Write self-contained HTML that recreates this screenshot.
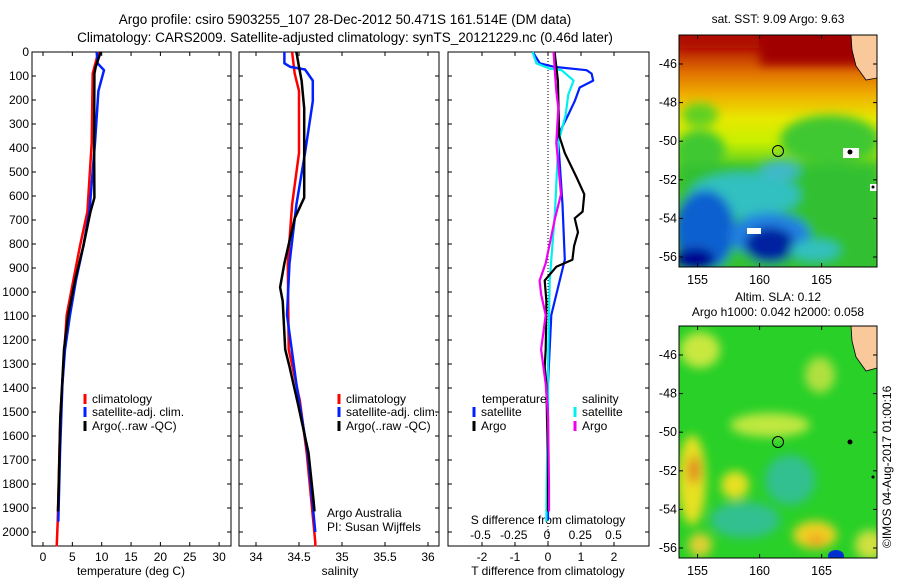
<!DOCTYPE html>
<html><head><meta charset="utf-8"><style>
body{margin:0;background:#fff;}
svg{display:block;font-family:"Liberation Sans",sans-serif;}
</style></head><body>
<svg id="fig" width="900" height="580" viewBox="0 0 900 580">
<defs>
<filter id="blur4" x="-50%" y="-50%" width="200%" height="200%"><feGaussianBlur stdDeviation="5"/></filter>
<filter id="blur2" x="-50%" y="-50%" width="200%" height="200%"><feGaussianBlur stdDeviation="3"/></filter>
<clipPath id="clipm1"><rect x="679" y="35" width="198" height="232"/></clipPath>
<clipPath id="clipm2"><rect x="679" y="326" width="198" height="232"/></clipPath>
<linearGradient id="sstg" x1="0" y1="0" x2="0" y2="1">
<stop offset="0" stop-color="#a40000"/><stop offset="0.06" stop-color="#b82000"/>
<stop offset="0.16" stop-color="#e07000"/><stop offset="0.26" stop-color="#f0b000"/>
<stop offset="0.36" stop-color="#e8e800"/><stop offset="0.46" stop-color="#c8f000"/>
<stop offset="0.56" stop-color="#60d020"/><stop offset="1" stop-color="#30c030"/>
</linearGradient>
</defs>
<text x="345" y="24" font-size="13.5" text-anchor="middle">Argo profile: csiro 5903255_107 28-Dec-2012 50.471S 161.514E (DM data)</text>
<text x="345" y="42" font-size="13.5" text-anchor="middle">Climatology: CARS2009. Satellite-adjusted climatology: synTS_20121229.nc (0.46d later)</text>
<g id="p1"></g>
<g id="p2"></g>
<g id="p3"></g>

<!-- SST map -->
<g>
<text x="778" y="23" font-size="12" text-anchor="middle">sat. SST: 9.09 Argo: 9.63</text>
<g clip-path="url(#clipm1)">
<rect x="679" y="35" width="198" height="232" fill="url(#sstg)"/>
<g filter="url(#blur4)">
<rect x="760" y="30" width="120" height="35" fill="#a00000"/>
<rect x="679" y="30" width="80" height="18" fill="#b01000"/>
<ellipse cx="700" cy="150" rx="25" ry="20" fill="#40c830"/>
<ellipse cx="700" cy="115" rx="18" ry="12" fill="#60d020"/>
<rect x="679" y="165" width="198" height="110" fill="#30c030"/>
<ellipse cx="830" cy="140" rx="50" ry="25" fill="#40c830"/>
<ellipse cx="745" cy="195" rx="55" ry="22" fill="#30c0c0"/>
<ellipse cx="705" cy="230" rx="30" ry="40" fill="#1060d0"/>
<ellipse cx="770" cy="235" rx="40" ry="22" fill="#2080e0"/>
<ellipse cx="770" cy="245" rx="25" ry="18" fill="#0020a0"/>
<ellipse cx="695" cy="260" rx="20" ry="12" fill="#000090"/>
<ellipse cx="815" cy="250" rx="25" ry="10" fill="#30c0c0"/>
<ellipse cx="780" cy="170" rx="20" ry="10" fill="#40b8c8"/>
</g>
<path d="M851 35 L877 35 L877 78 L866 80 L856 66 L852 50 Z" fill="#f9c89b" stroke="#000" stroke-width="0.8"/>
<rect x="843" y="148" width="16" height="10" fill="#fff"/><circle cx="850" cy="152" r="2.5" fill="#000"/>
<rect x="870" y="184" width="7" height="7" fill="#fff"/><circle cx="873" cy="187" r="1.5" fill="#000"/>
<rect x="747" y="228" width="14" height="6" fill="#fff"/>
</g>
<rect x="679" y="35" width="198" height="232" fill="none" stroke="#000"/>
<circle cx="778" cy="151" r="5.5" fill="none" stroke="#000"/>
</g>
<!-- SLA map -->
<g>
<text x="778" y="301" font-size="12" text-anchor="middle">Altim. SLA: 0.12</text>
<text x="778" y="316" font-size="12" text-anchor="middle">Argo h1000: 0.042 h2000: 0.058</text>
<g clip-path="url(#clipm2)">
<rect x="679" y="326" width="198" height="232" fill="#28d028"/>
<g filter="url(#blur4)">
<ellipse cx="700" cy="350" rx="20" ry="18" fill="#c8e840"/>
<ellipse cx="770" cy="425" rx="40" ry="12" fill="#c0e840"/>
<ellipse cx="692" cy="480" rx="14" ry="45" fill="#e8e020"/>
<ellipse cx="694" cy="470" rx="6" ry="14" fill="#e08020"/>
<ellipse cx="735" cy="485" rx="14" ry="14" fill="#e8e020"/>
<ellipse cx="745" cy="520" rx="35" ry="18" fill="#30c090"/>
<ellipse cx="790" cy="480" rx="25" ry="25" fill="#30c090"/>
<ellipse cx="815" cy="535" rx="22" ry="14" fill="#f0d020"/>
<ellipse cx="816" cy="540" rx="8" ry="6" fill="#f0a020"/>
<ellipse cx="820" cy="375" rx="15" ry="18" fill="#b0e040"/>
<ellipse cx="870" cy="545" rx="15" ry="15" fill="#d0e040"/>
<ellipse cx="700" cy="545" rx="12" ry="12" fill="#e0d030"/>
</g>
<ellipse cx="836" cy="556" rx="8" ry="6" fill="#0030d0"/>
<path d="M851 326 L877 326 L877 368 L866 371 L856 357 L852 341 Z" fill="#f9c89b" stroke="#000" stroke-width="0.8"/>
<circle cx="850" cy="442" r="2.5" fill="#000"/><circle cx="873" cy="477" r="1.5" fill="#000"/>
</g>
<rect x="679" y="326" width="198" height="232" fill="none" stroke="#000"/>
<circle cx="778" cy="442" r="5.5" fill="none" stroke="#000"/>
</g>
<text transform="translate(891,548) rotate(-90)" font-size="12">©IMOS 04-Aug-2017 01:00:16</text>
<g id="mapaxes"></g>
</svg>
<script>
// ---- data (depth m, value) ----
const tempClimDepth=[0,90,378,665,808,952,1096,1239,1526,1957,2060];
const tempClimVal=[9.43,8.47,8.3,7.56,6.3,5.17,4.03,3.64,2.95,2.5,2.33];
const tempSatDepth=[0,47,76,162,378,665,808,952,1096,1239,1383,1670,1957];
const tempSatVal=[9.15,9.3,10.4,9.43,8.86,7.9,6.88,5.6,4.6,3.75,3.3,2.9,2.6];
const tempArgoDepth=[0,62,90,378,607,665,808,952,1096,1239,1526,1813,1914];
const tempArgoVal=[9.83,8.98,8.75,8.7,8.75,8.1,6.88,5.45,4.3,3.58,2.95,2.67,2.56];
const salClimDepth=[0,90,162,421,636,880,1239,1454,1670,2043,2060];
const salClimVal=[34.42,34.45,34.5,34.5,34.42,34.37,34.38,34.51,34.59,34.69,34.69];
const salSatDepth=[0,47,62,73,119,205,421,636,880,1096,1383,1670,2000];
const salSatVal=[34.33,34.33,34.4,34.57,34.66,34.66,34.57,34.47,34.39,34.36,34.47,34.6,34.69];
const salArgoDepth=[0,62,119,234,607,693,880,981,1038,1239,1311,1469,1670,1871,1914];
const salArgoVal=[34.47,34.5,34.53,34.56,34.56,34.45,34.33,34.28,34.31,34.34,34.39,34.49,34.61,34.67,34.68];
const dTSatDepth=[0,47,62,76,90,119,148,205,263,349,636,866,1096,1383,1813,1950];
const dTSatVal=[-0.46,-0.25,0.2,1.17,1.32,1.37,0.96,0.81,0.61,0.3,0.44,0.51,0.1,0,0,0];
const dSSatDepth=[0,47,69,76,119,177,263,378,665,952,1239,1957];
const dSSatVal=[-0.108,-0.08,0.02,0.11,0.2,0.16,0.14,0.085,0.06,0.02,0.01,-0.005];
const dTArgoDepth=[0,62,119,349,421,521,593,665,693,751,808,866,895,952,1038,1239,1311,1383,1526,1670,1914];
const dTArgoVal=[0.2,0.25,0.3,0.34,0.51,0.86,1.1,1.05,0.81,0.91,0.79,0.74,0.25,-0.1,-0.05,-0.07,-0.1,-0.05,-0.03,0,0];
const dSArgoDepth=[0,90,162,234,378,593,693,880,952,1009,1096,1239,1383,1526,1813,1914];
const dSArgoVal=[0.05,0.06,0.07,0.085,0.07,0.105,0.06,-0.01,-0.056,-0.044,-0.01,-0.044,-0.01,0.008,0.015,0.015];
const depthTicks=[0,100,200,300,400,500,600,700,800,900,1000,1100,1200,1300,1400,1500,1600,1700,1800,1900,2000];
const tempTicks=[0,5,10,15,20,25,30];
const salTicks=[34,34.5,35,35.5,36];
const dTTicks=[-2,-1,0,1,2];
const dSTickLabels=["-0.5","-0.25","0","0.25","0.5"];
const lonTicks=[155,160,165];
const latTicks=[-46,-48,-50,-52,-54,-56];

const NS='http://www.w3.org/2000/svg';
function mk(parent,tag,attrs,text){const e=document.createElementNS(NS,tag);for(const k in attrs)e.setAttribute(k,attrs[k]);if(text!==undefined)e.textContent=text;parent.appendChild(e);return e;}
const yD=d=>52+d*0.24;
const xT=t=>43+t*5.87;
const xS=s=>256+(s-34)*86;
const xTd=t=>548+t*33;
const xSd=s=>547+s*133;
const Y0=52,Y1=546;

function frame(g,x0,x1,name){
  const r=mk(g,'rect',{x:x0,y:Y0,width:x1-x0,height:Y1-Y0,fill:'none',stroke:'#000','stroke-width':1});
  
  
  depthTicks.forEach(d=>{mk(g,'line',{x1:x0,x2:x0+4,y1:yD(d),y2:yD(d),stroke:'#000'});mk(g,'line',{x1:x1,x2:x1-4,y1:yD(d),y2:yD(d),stroke:'#000'});});
}
function series(g,depths,vals,xf,color,name,w){
  const pts=depths.map((d,i)=>xf(vals[i]).toFixed(1)+','+yD(d).toFixed(1)).join(' ');
  const p=mk(g,'polyline',{points:pts,fill:'none',stroke:color,'stroke-width':w||2.5,'stroke-linejoin':'round'});
  
  
}
function legend(g,x,y,color,label,name){
  const l=mk(g,'line',{x1:x,x2:x,y1:y-9,y2:y+1,stroke:color,'stroke-width':3});
  const t=mk(g,'text',{x:x+7,y:y,'font-size':12},label);
  
  
}
// Panel 1
const p1=document.getElementById('p1');
frame(p1,32,231,'temperature-frame');
depthTicks.forEach(d=>{const t=mk(p1,'text',{x:29,y:yD(d)+4,'font-size':12,'text-anchor':'end'},String(d));
  
  });
tempTicks.forEach(v=>{mk(p1,'line',{x1:xT(v),x2:xT(v),y1:Y1,y2:Y1-4,stroke:'#000'});mk(p1,'line',{x1:xT(v),x2:xT(v),y1:Y0,y2:Y0+4,stroke:'#000'});
  const t=mk(p1,'text',{x:xT(v),y:561,'font-size':12,'text-anchor':'middle'},String(v));
  
  });
const t1=mk(p1,'text',{x:131,y:575,'font-size':12,'text-anchor':'middle'},'temperature (deg C)');


series(p1,tempClimDepth,tempClimVal,xT,'#f00','temp-climatology-line');
series(p1,tempSatDepth,tempSatVal,xT,'#0020ff','temp-satellite-line');
series(p1,tempArgoDepth,tempArgoVal,xT,'#000','temp-argo-line');
legend(p1,85,403,'#f00','climatology','legend-climatology');
legend(p1,85,416,'#0020ff','satellite-adj. clim.','legend-satellite');
legend(p1,85,430,'#000','Argo(..raw -QC)','legend-argo');
// Panel 2
const p2=document.getElementById('p2');
frame(p2,239,439,'salinity-frame');
salTicks.forEach(v=>{mk(p2,'line',{x1:xS(v),x2:xS(v),y1:Y1,y2:Y1-4,stroke:'#000'});mk(p2,'line',{x1:xS(v),x2:xS(v),y1:Y0,y2:Y0+4,stroke:'#000'});
  const t=mk(p2,'text',{x:xS(v),y:561,'font-size':12,'text-anchor':'middle'},String(v));
  
  });
const t2=mk(p2,'text',{x:340,y:575,'font-size':12,'text-anchor':'middle'},'salinity');


series(p2,salClimDepth,salClimVal,xS,'#f00','sal-climatology-line');
series(p2,salSatDepth,salSatVal,xS,'#0020ff','sal-satellite-line');
series(p2,salArgoDepth,salArgoVal,xS,'#000','sal-argo-line');
legend(p2,339,403,'#f00','climatology','legend-climatology-2');
legend(p2,339,416,'#0020ff','satellite-adj. clim.','legend-satellite-2');
legend(p2,339,430,'#000','Argo(..raw -QC)','legend-argo-2');
const a1=mk(p2,'text',{x:327,y:517,'font-size':12},'Argo Australia');


const a2=mk(p2,'text',{x:327,y:531,'font-size':12},'PI: Susan Wijffels');


// Panel 3
const p3=document.getElementById('p3');
frame(p3,448,649,'difference-frame');
mk(p3,'line',{x1:xTd(0),x2:xTd(0),y1:Y0,y2:Y1,stroke:'#000','stroke-dasharray':'1,2'});
dTTicks.forEach(v=>{mk(p3,'line',{x1:xTd(v),x2:xTd(v),y1:Y1,y2:Y1-4,stroke:'#000'});mk(p3,'line',{x1:xTd(v),x2:xTd(v),y1:Y0,y2:Y0+4,stroke:'#000'});
  const t=mk(p3,'text',{x:xTd(v),y:561,'font-size':12,'text-anchor':'middle'},String(v));
  
  });
dSTickLabels.forEach(s=>{const t=mk(p3,'text',{x:xSd(parseFloat(s)),y:539,'font-size':12,'text-anchor':'middle'},s);
  
  });
const t3=mk(p3,'text',{x:548,y:524,'font-size':12,'text-anchor':'middle'},'S difference from climatology');


const t4=mk(p3,'text',{x:548,y:575,'font-size':12,'text-anchor':'middle'},'T difference from climatology');


series(p3,dTSatDepth,dTSatVal,xTd,'#0020ff','tdiff-satellite-line',2.2);
series(p3,dSSatDepth,dSSatVal,xSd,'#00f0f0','sdiff-satellite-line',2.2);
series(p3,dTArgoDepth,dTArgoVal,xTd,'#000','tdiff-argo-line',2.2);
series(p3,dSArgoDepth,dSArgoVal,xSd,'#f000f0','sdiff-argo-line',2.2);
const lt=mk(p3,'text',{x:482,y:403,'font-size':12},'temperature');


const ls=mk(p3,'text',{x:582,y:403,'font-size':12},'salinity');


legend(p3,474,416,'#0020ff','satellite','legend-t-satellite');
legend(p3,474,430,'#000','Argo','legend-t-argo');
legend(p3,575,416,'#00f0f0','satellite','legend-s-satellite');
legend(p3,575,430,'#f000f0','Argo','legend-s-argo');
// map axes
const ma=document.getElementById('mapaxes');
const xLon=l=>679+(l-153.5)*12.4;
[[35,267,64],[326,558,355]].forEach((m,mi)=>{
  const yLat=la=>m[2]+(-46-la)*19.3;
  lonTicks.forEach(l=>{mk(ma,'line',{x1:xLon(l),x2:xLon(l),y1:m[1],y2:m[1]-4,stroke:'#000'});mk(ma,'line',{x1:xLon(l),x2:xLon(l),y1:m[0],y2:m[0]+4,stroke:'#000'});
    const t=mk(ma,'text',{x:xLon(l),y:m[1]+17,'font-size':12.5,'text-anchor':'middle'},String(l));
    
    });
  latTicks.forEach(la=>{mk(ma,'line',{x1:679,x2:683,y1:yLat(la),y2:yLat(la),stroke:'#000'});mk(ma,'line',{x1:877,x2:873,y1:yLat(la),y2:yLat(la),stroke:'#000'});
    const t=mk(ma,'text',{x:677,y:yLat(la)+4,'font-size':12.5,'text-anchor':'end'},String(la));
    
    });
});
</script>
</body></html>
